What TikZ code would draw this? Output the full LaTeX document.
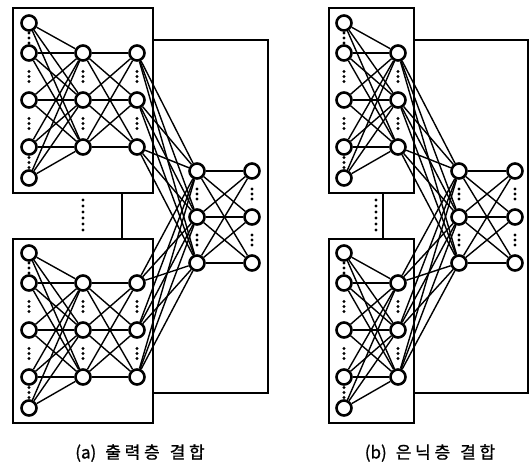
\documentclass[tikz,border=0pt]{standalone}
\usepackage{fontspec}
\newfontfamily\krfont{Noto Sans CJK KR}[FakeBold=1]
\newfontfamily\krwide{Noto Sans CJK KR}[LetterSpace=22,FakeBold=1]

% three small dots between two units of one column
\newcommand\gapdots[3]{\foreach \d in {-5,0,5} {\fill (#1,{(#2+#3)/2+\d}) circle (1.6);}}

\begin{document}
\begin{tikzpicture}[x=1pt,y=-1pt,
  unit/.style={circle,draw,line width=2.6pt,fill=white,minimum size=15pt,inner sep=0pt},
  link/.style={line width=1.4pt},
  frame/.style={draw,line width=1.4pt,fill=white},
  caption/.style={font=\krfont\fontsize{17}{19}\selectfont,inner sep=0pt}]
  \path[use as bounding box] (0,0) rectangle (529,469);

  % ---- (a) joined at the output layer ----
  \draw[frame] (122,40) rectangle (268,393);
  \draw[frame] (13,8) rectangle (153,193);
  \draw[frame] (13,239) rectangle (153,423);
  \foreach \y in {200,206,...,230} \fill (83,\y) circle (1.6);

  \foreach \net/\dy in {t/0,b/230} {
    \foreach \k/\y in {1/23,2/53,3/100,4/147,5/178}
      \node[unit] (a\net i\k) at (29,\y+\dy) {};
    \foreach \k/\y in {1/53,2/100,3/147} {
      \node[unit] (a\net h\k) at (83,\y+\dy) {};
      \node[unit] (a\net o\k) at (137,\y+\dy) {};
    }
    \foreach \ya/\yb in {23/53,53/100,100/147,147/178}
      {\gapdots{29}{\ya+\dy}{\yb+\dy}}
    \foreach \ya/\yb in {53/100,100/147} {
      \gapdots{83}{\ya+\dy}{\yb+\dy}
      \gapdots{137}{\ya+\dy}{\yb+\dy}
    }
  }
  \foreach \k/\y in {1/171,2/217,3/263} {
    \node[unit] (ac\k) at (197,\y) {};
    \node[unit] (ad\k) at (252,\y) {};
  }
  \foreach \ya/\yb in {171/217,217/263} {
    \gapdots{197}{\ya}{\yb}
    \gapdots{252}{\ya}{\yb}
  }

  \foreach \net in {t,b} {
    \foreach \i in {1,...,5} \foreach \j in {1,2,3}
      \draw[link] (a\net i\i) -- (a\net h\j);
    \foreach \i in {1,2,3} \foreach \j in {1,2,3} {
      \draw[link] (a\net h\i) -- (a\net o\j);
      \draw[link] (a\net o\i) -- (ac\j);
    }
  }
  \foreach \i in {1,2,3} \foreach \j in {1,2,3}
    \draw[link] (ac\i) -- (ad\j);

  \node[caption] (capa) at (140,453) {(a)\hspace{9pt}{\krwide 출력층}\hspace{10pt}{\krwide 결합}};

  % ---- (b) joined at the hidden layer ----
  \draw[frame] (383,40) rectangle (528,393);
  \draw[frame] (329,8) rectangle (414,193);
  \draw[frame] (329,239) rectangle (414,423);
  \foreach \y in {200,206,...,230} \fill (376,\y) circle (1.6);

  \foreach \net/\dy in {t/0,b/230} {
    \foreach \k/\y in {1/23,2/53,3/100,4/147,5/178}
      \node[unit] (b\net i\k) at (344,\y+\dy) {};
    \foreach \k/\y in {1/53,2/100,3/147}
      \node[unit] (b\net h\k) at (398,\y+\dy) {};
    \foreach \ya/\yb in {23/53,53/100,100/147,147/178}
      {\gapdots{344}{\ya+\dy}{\yb+\dy}}
    \foreach \ya/\yb in {53/100,100/147}
      {\gapdots{398}{\ya+\dy}{\yb+\dy}}
  }
  \foreach \k/\y in {1/171,2/217,3/263} {
    \node[unit] (bc\k) at (459,\y) {};
    \node[unit] (bd\k) at (515,\y) {};
  }
  \foreach \ya/\yb in {171/217,217/263} {
    \gapdots{459}{\ya}{\yb}
    \gapdots{515}{\ya}{\yb}
  }

  \foreach \net in {t,b} {
    \foreach \i in {1,...,5} \foreach \j in {1,2,3}
      \draw[link] (b\net i\i) -- (b\net h\j);
    \foreach \i in {1,2,3} \foreach \j in {1,2,3}
      \draw[link] (b\net h\i) -- (bc\j);
  }
  \foreach \i in {1,2,3} \foreach \j in {1,2,3}
    \draw[link] (bc\i) -- (bd\j);

  \node[caption] (capb) at (430,453) {(b)\hspace{9pt}{\krwide 은닉층}\hspace{10pt}{\krwide 결합}};
\end{tikzpicture}
\end{document}
